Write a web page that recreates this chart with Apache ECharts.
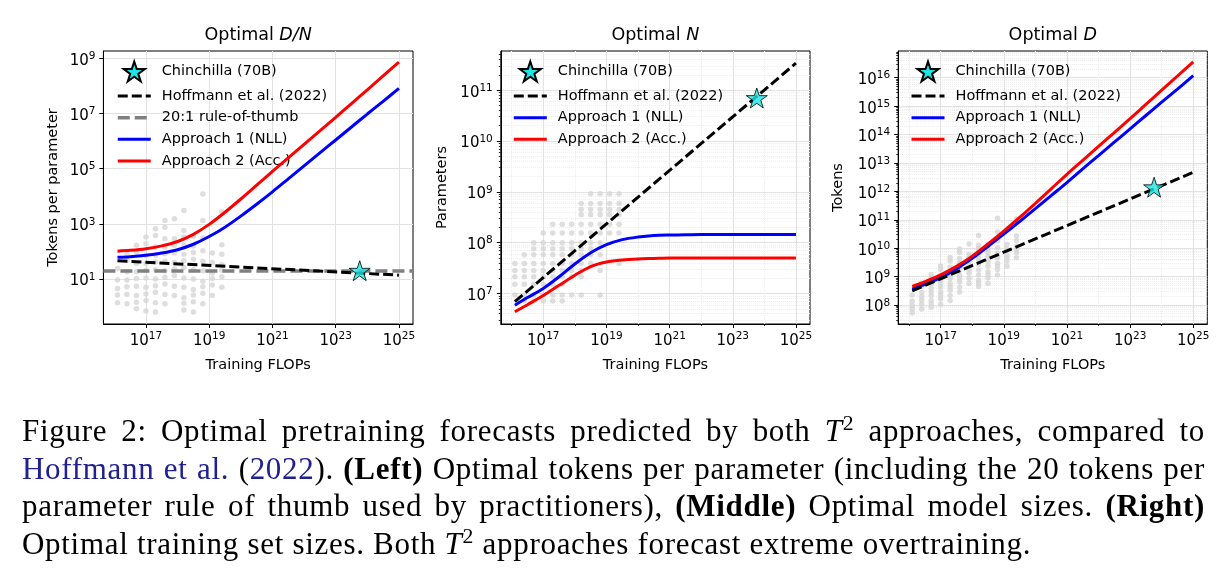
<!DOCTYPE html>
<html>
<head>
<meta charset="utf-8">
<title>Optimal pretraining forecasts</title>
<script src="https://cdn.jsdelivr.net/npm/echarts@6/dist/echarts.min.js"></script>
<style>
  html, body { margin: 0; padding: 0; background: #fff; }
  #chart { position: absolute; left: 0; top: 0; width: 1230px; height: 568px; }
  #caption {
    position: absolute; left: 22px; top: 412px; width: 1183px;
    font-family: 'Liberation Serif', serif; font-size: 31px; line-height: 37.5px; color: #000;
    letter-spacing: 0.7px;
  }
  #caption .ln { text-align: justify; text-align-last: justify; white-space: nowrap; }
  #caption .cite { color: #202090; }
  #caption sup { font-size: 0.7em; line-height: 0; vertical-align: 0.5em; }
</style>
</head>
<body>
<div id="chart"></div>
<div id="caption">
  <div class="ln">Figure 2: Optimal pretraining forecasts predicted by both <i>T</i><sup>2</sup> approaches, compared to</div>
  <div class="ln"><span class="cite">Hoffmann et al.</span> (<span class="cite">2022</span>). <b>(Left)</b> Optimal tokens per parameter (including the 20 tokens per</div>
  <div class="ln">parameter rule of thumb used by practitioners), <b>(Middle)</b> Optimal model sizes. <b>(Right)</b></div>
  <div>Optimal training set sizes. Both <i>T</i><sup>2</sup> approaches forecast extreme overtraining.</div>
</div>
<script>
// all values are log10 (axes are drawn in exponent space, labels show 10^n)

// fitted curves, sampled along training FLOPs
const curveFlops = [16.1, 16.5, 17.0, 17.5, 18.0, 18.5, 19.0, 19.5, 20.0, 20.5, 21.0, 21.5, 22.0, 22.5, 23.0, 23.5, 24.0, 24.5, 25.0];
const dnApproach1 = [1.79, 1.81, 1.86, 1.94, 2.06, 2.26, 2.54, 2.88, 3.28, 3.71, 4.16, 4.63, 5.10, 5.57, 6.04, 6.51, 6.98, 7.44, 7.91];
const dnApproach2 = [2.01, 2.04, 2.10, 2.20, 2.36, 2.62, 2.98, 3.42, 3.90, 4.40, 4.90, 5.39, 5.88, 6.37, 6.86, 7.36, 7.86, 8.36, 8.86];
const nApproach1 = [6.77, 6.92, 7.10, 7.33, 7.58, 7.80, 7.96, 8.06, 8.11, 8.14, 8.15, 8.155, 8.16, 8.16, 8.16, 8.16, 8.16, 8.16, 8.16];
const nApproach2 = [6.64, 6.78, 6.96, 7.16, 7.36, 7.53, 7.62, 7.66, 7.68, 7.69, 7.70, 7.70, 7.70, 7.70, 7.70, 7.70, 7.70, 7.70, 7.70];
const dApproach1 = [8.56, 8.73, 8.96, 9.27, 9.64, 10.06, 10.50, 10.94, 11.39, 11.85, 12.31, 12.79, 13.26, 13.73, 14.20, 14.67, 15.14, 15.60, 16.07];
const dApproach2 = [8.65, 8.82, 9.06, 9.36, 9.72, 10.15, 10.60, 11.08, 11.58, 12.09, 12.60, 13.09, 13.58, 14.07, 14.56, 15.06, 15.56, 16.06, 16.56];

// Hoffmann et al. (2022) power laws (end points)
const hoffFlops = [16.1, 25.0];
const hoffDN = [1.66, 1.14];
const hoffN = [6.84, 11.53];
const hoffD = [8.50, 12.67];

// Chinchilla (70B)
const chinFlops = 23.76;
const chinDN = 1.301;
const chinN = 10.845;
const chinD = 12.146;

const ruleOfThumb = 1.301; // 20 tokens per parameter

// grey runs: [flops, tokens per parameter]
const runsDN = [
  [16.4,1.92],[16.7,2.22],[17.0,2.52],[17.3,2.82],[17.6,3.12],
  [16.1,1.38],[16.4,1.68],[16.7,1.98],[17.0,2.28],[17.3,2.58],[17.6,2.88],[17.9,3.18],[18.2,3.48],[18.8,4.08],
  [16.1,0.96],[16.4,1.26],[16.7,1.56],[17.0,1.86],[17.3,2.16],[17.6,2.46],
  [16.1,0.66],[16.4,0.96],[16.7,1.26],[17.0,1.56],[17.3,1.86],[17.6,2.16],[17.9,2.46],[18.2,2.76],
  [16.1,0.42],[16.4,0.72],[16.7,1.02],[17.0,1.32],[17.3,1.62],[17.6,1.92],[17.9,2.22],[18.2,2.52],[18.8,3.12],
  [16.1,0.14],[16.4,0.44],[16.7,0.74],[17.0,1.04],[17.3,1.34],[17.6,1.64],[17.9,1.94],[18.2,2.24],[18.5,2.54],[19.4,3.44],
  [16.4,0.10],[16.7,0.40],[17.0,0.70],[17.3,1.00],[17.6,1.30],[17.9,1.60],[18.2,1.90],[18.5,2.20],[18.8,2.50],
  [16.7,0.16],[17.0,0.46],[17.3,0.76],[17.6,1.06],[17.9,1.36],[18.2,1.66],[18.5,1.96],
  [16.7,-0.08],[17.0,0.22],[17.3,0.52],[17.6,0.82],[17.9,1.12],[18.2,1.42],[18.5,1.72],[18.8,2.02],
  [17.0,-0.16],[17.3,0.14],[17.6,0.44],[17.9,0.74],[18.2,1.04],[18.5,1.34],[18.8,1.64],[19.1,1.94],[19.4,2.24],
  [17.3,-0.20],[17.6,0.10],[17.9,0.40],[18.2,0.70],[18.5,1.00],[18.8,1.30],[19.1,1.60],[19.4,1.90],
  [18.2,0.32],[18.5,0.62],[18.8,0.92],[19.1,1.22],[19.4,1.52],
  [18.2,0.12],[18.5,0.42],[18.8,0.72],[19.1,1.02],[19.4,1.32],
  [18.2,-0.12],[18.5,0.18],[18.8,0.48],[19.1,0.78],[19.4,1.08],
  [18.5,-0.20],[18.8,0.10],[19.1,0.40],[19.4,0.70]
];

// grey runs: [flops, parameters]
const runsN = [
  [16.4,6.85],[16.7,6.85],[17.0,6.85],[17.3,6.85],[17.6,6.85],
  [16.1,6.97],[16.4,6.97],[16.7,6.97],[17.0,6.97],[17.3,6.97],[17.6,6.97],[17.9,6.97],[18.2,6.97],[18.8,6.97],
  [16.1,7.18],[16.4,7.18],[16.7,7.18],[17.0,7.18],[17.3,7.18],[17.6,7.18],
  [16.1,7.33],[16.4,7.33],[16.7,7.33],[17.0,7.33],[17.3,7.33],[17.6,7.33],[17.9,7.33],[18.2,7.33],
  [16.1,7.45],[16.4,7.45],[16.7,7.45],[17.0,7.45],[17.3,7.45],[17.6,7.45],[17.9,7.45],[18.2,7.45],[18.8,7.45],
  [16.1,7.59],[16.4,7.59],[16.7,7.59],[17.0,7.59],[17.3,7.59],[17.6,7.59],[17.9,7.59],[18.2,7.59],[18.5,7.59],[19.4,7.59],
  [16.4,7.76],[16.7,7.76],[17.0,7.76],[17.3,7.76],[17.6,7.76],[17.9,7.76],[18.2,7.76],[18.5,7.76],[18.8,7.76],
  [16.7,7.88],[17.0,7.88],[17.3,7.88],[17.6,7.88],[17.9,7.88],[18.2,7.88],[18.5,7.88],
  [16.7,8.00],[17.0,8.00],[17.3,8.00],[17.6,8.00],[17.9,8.00],[18.2,8.00],[18.5,8.00],[18.8,8.00],
  [17.0,8.19],[17.3,8.19],[17.6,8.19],[17.9,8.19],[18.2,8.19],[18.5,8.19],[18.8,8.19],[19.1,8.19],[19.4,8.19],
  [17.3,8.36],[17.6,8.36],[17.9,8.36],[18.2,8.36],[18.5,8.36],[18.8,8.36],[19.1,8.36],[19.4,8.36],
  [18.2,8.55],[18.5,8.55],[18.8,8.55],[19.1,8.55],[19.4,8.55],
  [18.2,8.65],[18.5,8.65],[18.8,8.65],[19.1,8.65],[19.4,8.65],
  [18.2,8.77],[18.5,8.77],[18.8,8.77],[19.1,8.77],[19.4,8.77],
  [18.5,8.96],[18.8,8.96],[19.1,8.96],[19.4,8.96]
];

// grey runs: [flops, tokens]
const runsD = [
  [16.4,8.77],[16.7,9.07],[17.0,9.37],[17.3,9.67],[17.6,9.97],
  [16.1,8.35],[16.4,8.65],[16.7,8.95],[17.0,9.25],[17.3,9.55],[17.6,9.85],[17.9,10.15],[18.2,10.45],[18.8,11.05],
  [16.1,8.14],[16.4,8.44],[16.7,8.74],[17.0,9.04],[17.3,9.34],[17.6,9.64],
  [16.1,7.99],[16.4,8.29],[16.7,8.59],[17.0,8.89],[17.3,9.19],[17.6,9.49],[17.9,9.79],[18.2,10.09],
  [16.1,7.87],[16.4,8.17],[16.7,8.47],[17.0,8.77],[17.3,9.07],[17.6,9.37],[17.9,9.67],[18.2,9.97],[18.8,10.57],
  [16.1,7.73],[16.4,8.03],[16.7,8.33],[17.0,8.63],[17.3,8.93],[17.6,9.23],[17.9,9.53],[18.2,9.83],[18.5,10.13],[19.4,11.03],
  [16.4,7.86],[16.7,8.16],[17.0,8.46],[17.3,8.76],[17.6,9.06],[17.9,9.36],[18.2,9.66],[18.5,9.96],[18.8,10.26],
  [16.7,8.04],[17.0,8.34],[17.3,8.64],[17.6,8.94],[17.9,9.24],[18.2,9.54],[18.5,9.84],
  [16.7,7.92],[17.0,8.22],[17.3,8.52],[17.6,8.82],[17.9,9.12],[18.2,9.42],[18.5,9.72],[18.8,10.02],
  [17.0,8.03],[17.3,8.33],[17.6,8.63],[17.9,8.93],[18.2,9.23],[18.5,9.53],[18.8,9.83],[19.1,10.13],[19.4,10.43],
  [17.3,8.16],[17.6,8.46],[17.9,8.76],[18.2,9.06],[18.5,9.36],[18.8,9.66],[19.1,9.96],[19.4,10.26],
  [18.2,8.87],[18.5,9.17],[18.8,9.47],[19.1,9.77],[19.4,10.07],
  [18.2,8.77],[18.5,9.07],[18.8,9.37],[19.1,9.67],[19.4,9.97],
  [18.2,8.65],[18.5,8.95],[18.8,9.25],[19.1,9.55],[19.4,9.85],
  [18.5,8.76],[18.8,9.06],[19.1,9.36],[19.4,9.66]
];

// tick labels (exponents)
const xTicks = [17, 19, 21, 23, 25];
const xMinorTicks = [16, 18, 20, 22, 24];
const dnTicks = [1, 3, 5, 7, 9];
const nTicks = [7, 8, 9, 10, 11];
const dTicks = [8, 9, 10, 11, 12, 13, 14, 15, 16];

const FONT = 'DejaVu Sans';
const X_RANGE = [15.655, 25.445];
const GRID_TOP = 51, GRID_H = 273;
const panels = [
  { left: 103.4, width: 309.6, y: [-0.631, 9.265] },
  { left: 500.8, width: 309.2, y: [6.40, 11.77] },
  { left: 898.2, width: 309.1, y: [7.331, 16.94] }
];

const STAR = 'path://M50,0L61.2,34.5L97.6,34.5L68.2,55.9L79.4,90.5L50,69.1L20.6,90.5L31.8,55.9L2.4,34.5L38.8,34.5Z';
const NAME_CHIN = 'Chinchilla (70B)';
const NAME_HOFF = 'Hoffmann et al. (2022)';
const NAME_RULE = '20:1 rule-of-thumb';
const NAME_A1 = 'Approach 1 (NLL)';
const NAME_A2 = 'Approach 2 (Acc.)';

const zip = (xs, ys) => xs.map((x, i) => [x, ys[i]]);

const minorLogTicks = (lo, hi) => {
  const out = [];
  for (let n = Math.floor(lo); n <= Math.ceil(hi); n++) {
    for (let k = 2; k <= 9; k++) {
      const v = n + Math.log10(k);
      if (v > lo && v < hi) out.push(v);
    }
  }
  return out;
};

const pow10 = (v) => '{b|10}{s|' + Math.round(v) + '}';
const richPow = {
  b: { fontFamily: FONT, fontSize: 15, lineHeight: 15, padding: [5, 0, 0, 0], color: '#000' },
  s: { fontFamily: FONT, fontSize: 10.5, lineHeight: 10, verticalAlign: 'top', color: '#000' }
};
const nameStyle = { fontFamily: FONT, fontSize: 14.5, color: '#000' };

const majorAxis = (gi, dim, range, ticks, name, gap) => ({
  type: 'value', gridIndex: gi, min: range[0], max: range[1],
  position: dim === 'x' ? 'bottom' : 'left',
  name: name, nameLocation: 'middle', nameGap: gap, nameTextStyle: nameStyle,
  nameMoveOverlap: false,
  axisLine: { show: true, onZero: false, lineStyle: { color: '#000', width: 1 } },
  axisTick: { show: true, customValues: ticks, length: 4, lineStyle: { color: '#000', width: 1 } },
  axisLabel: { customValues: ticks, formatter: pow10, margin: dim === 'x' ? 7 : 8, rich: richPow },
  splitLine: { show: true, lineStyle: { color: '#e2e2e2', width: 1 } }
});

const minorAxis = (gi, dim, range, ticks) => ({
  type: 'value', gridIndex: gi, min: range[0], max: range[1],
  position: dim === 'x' ? 'bottom' : 'left',
  axisLine: { show: false, onZero: false },
  axisLabel: { show: false },
  axisTick: { show: true, customValues: ticks, length: 2, lineStyle: { color: '#000', width: 0.8 } },
  splitLine: { show: true, lineStyle: { color: '#ededed', width: 1, type: 'dotted' } }
});

const xAxes = [
  majorAxis(0, 'x', X_RANGE, xTicks, 'Training FLOPs', 34),
  majorAxis(1, 'x', X_RANGE, xTicks, 'Training FLOPs', 34),
  minorAxis(1, 'x', X_RANGE, xMinorTicks),
  majorAxis(2, 'x', X_RANGE, xTicks, 'Training FLOPs', 34),
  minorAxis(2, 'x', X_RANGE, xMinorTicks)
];
const yAxes = [
  majorAxis(0, 'y', panels[0].y, dnTicks, 'Tokens per parameter', 43),
  majorAxis(1, 'y', panels[1].y, nTicks, 'Parameters', 51),
  minorAxis(1, 'y', panels[1].y, minorLogTicks(panels[1].y[0], panels[1].y[1])),
  majorAxis(2, 'y', panels[2].y, dTicks, 'Tokens', 52),
  minorAxis(2, 'y', panels[2].y, minorLogTicks(panels[2].y[0], panels[2].y[1]))
];

// series helpers (xi / yi = axis indices of the panel)
const runsSeries = (xi, yi, pts) => ({
  type: 'scatter', xAxisIndex: xi, yAxisIndex: yi, data: pts, silent: true,
  symbolSize: 5.5, itemStyle: { color: '#d6d6d6' }, z: 2
});
const curveSeries = (name, color, xi, yi, ys) => ({
  name: name, type: 'line', xAxisIndex: xi, yAxisIndex: yi, data: zip(curveFlops, ys),
  smooth: 0.3, symbol: 'none', silent: true,
  lineStyle: { color: color, width: 3 }, itemStyle: { color: color }, z: 4
});
const hoffSeries = (xi, yi, ys) => ({
  name: NAME_HOFF, type: 'line', xAxisIndex: xi, yAxisIndex: yi, data: zip(hoffFlops, ys),
  symbol: 'none', silent: true,
  lineStyle: { color: '#000', width: 3, type: [10, 4] }, itemStyle: { color: '#000' }, z: 5
});
const starSeries = (xi, yi, x, y) => ({
  name: NAME_CHIN, type: 'scatter', xAxisIndex: xi, yAxisIndex: yi, data: [[x, y]],
  symbol: STAR, symbolSize: 21, symbolKeepAspect: true, silent: true,
  itemStyle: { color: '#1fe6e6', borderColor: '#000', borderWidth: 1 }, z: 6
});

const series = [
  // left: D/N
  runsSeries(0, 0, runsDN),
  {
    name: NAME_RULE, type: 'line', xAxisIndex: 0, yAxisIndex: 0, data: [], symbol: 'none', silent: true,
    lineStyle: { color: '#808080', width: 3.5, type: [12, 5] }, itemStyle: { color: '#808080' }, z: 3,
    markLine: {
      silent: true, symbol: 'none', label: { show: false },
      lineStyle: { color: '#808080', width: 3.5, type: [12, 5] },
      data: [{ yAxis: ruleOfThumb }]
    }
  },
  curveSeries(NAME_A1, '#0000ff', 0, 0, dnApproach1),
  curveSeries(NAME_A2, '#ff0000', 0, 0, dnApproach2),
  hoffSeries(0, 0, hoffDN),
  starSeries(0, 0, chinFlops, chinDN),
  // middle: N
  runsSeries(1, 1, runsN),
  curveSeries(NAME_A1, '#0000ff', 1, 1, nApproach1),
  curveSeries(NAME_A2, '#ff0000', 1, 1, nApproach2),
  hoffSeries(1, 1, hoffN),
  starSeries(1, 1, chinFlops, chinN),
  // right: D
  runsSeries(3, 3, runsD),
  curveSeries(NAME_A1, '#0000ff', 3, 3, dApproach1),
  curveSeries(NAME_A2, '#ff0000', 3, 3, dApproach2),
  hoffSeries(3, 3, hoffD),
  starSeries(3, 3, chinFlops, chinD)
];

// line handles only: hide the symbol the line legend icon adds, keep the star
const legendAt = (left, names) => ({
  orient: 'vertical', left: left, top: 60.5, padding: 0, itemGap: 5.6,
  itemWidth: 33, itemHeight: 20, selectedMode: false,
  data: names.map((n) => (n === NAME_CHIN ? { name: n, itemStyle: { opacity: 1 } } : n)),
  itemStyle: { opacity: 0 },
  lineStyle: { width: 'inherit' },
  textStyle: { fontFamily: FONT, fontSize: 14.5, color: '#000', padding: [0, 0, 0, 6] }
});

const titleAt = (cx, plain, ital) => ({
  text: '{n|' + plain + '}{i|' + ital + '}', left: cx, top: 26, textAlign: 'center', padding: 0,
  textStyle: {
    fontWeight: 'normal',
    rich: {
      n: { fontFamily: FONT, fontSize: 17.5, fontWeight: 'normal', color: '#000' },
      i: { fontFamily: FONT, fontSize: 17.5, fontWeight: 'normal', fontStyle: 'italic', color: '#000' }
    }
  }
});

const chart = echarts.init(document.getElementById('chart'), null, { renderer: 'canvas' });
chart.setOption({
  animation: false,
  backgroundColor: 'transparent',
  textStyle: { fontFamily: FONT },
  title: [
    titleAt(panels[0].left + panels[0].width / 2, 'Optimal ', 'D/N'),
    titleAt(panels[1].left + panels[1].width / 2, 'Optimal ', 'N'),
    titleAt(panels[2].left + panels[2].width / 2, 'Optimal ', 'D')
  ],
  grid: panels.map((p) => ({
    left: p.left, top: GRID_TOP, width: p.width, height: GRID_H,
    show: true, borderColor: '#000', borderWidth: 1, backgroundColor: 'transparent',
    containLabel: false, outerBoundsMode: 'none'
  })),
  legend: [
    legendAt(116, [NAME_CHIN, NAME_HOFF, NAME_RULE, NAME_A1, NAME_A2]),
    legendAt(512.3, [NAME_CHIN, NAME_HOFF, NAME_A1, NAME_A2]),
    legendAt(910, [NAME_CHIN, NAME_HOFF, NAME_A1, NAME_A2])
  ],
  xAxis: xAxes,
  yAxis: yAxes,
  series: series
});
</script>
</body>
</html>
